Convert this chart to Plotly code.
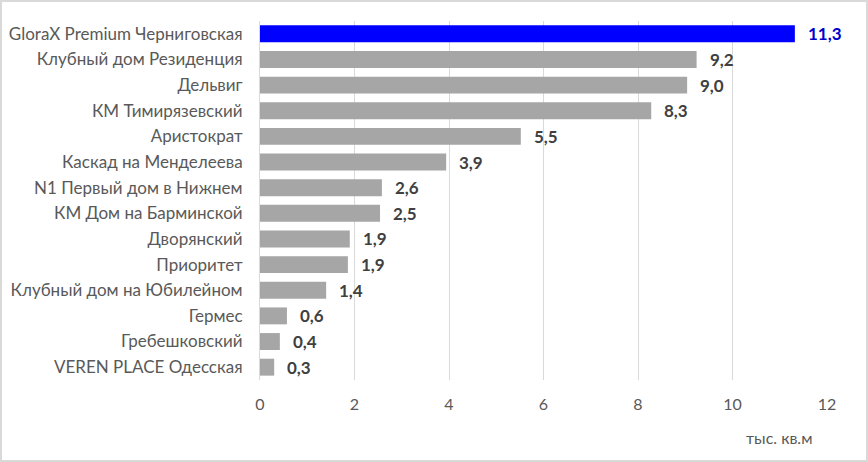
import plotly.graph_objects as go

categories = [
    "GloraX Premium Черниговская",
    "Клубный дом Резиденция",
    "Дельвиг",
    "КМ Тимирязевский",
    "Аристократ",
    "Каскад на Менделеева",
    "N1 Первый дом в Нижнем",
    "КМ Дом на Барминской",
    "Дворянский",
    "Приоритет",
    "Клубный дом на Юбилейном",
    "Гермес",
    "Гребешковский",
    "VEREN PLACE Одесская",
]
values = [11.32, 9.24, 9.04, 8.28, 5.52, 3.94, 2.58, 2.54, 1.9, 1.86, 1.4, 0.57, 0.42, 0.3]
tick_vals = [0, 2, 4, 6, 8, 10, 12]
axis_unit = "тыс. кв.м"

highlight = "GloraX Premium Черниговская"
bar_colors = ["#0000FF" if c == highlight else "#A6A6A6" for c in categories]
label_colors = ["#0000CC" if c == highlight else "#404040" for c in categories]
labels = [f"{v:.1f}".replace(".", ",") for v in values]

FONT = "Lato"
W, H = 868, 462
L, R, T, B = 260, 41, 21, 82
pw, ph = W - L - R, H - T - B

fig = go.Figure()
fig.add_trace(go.Bar(
    x=values, y=categories, orientation="h",
    marker=dict(color=bar_colors, line=dict(width=0)),
    hoverinfo="x+y",
))

for c, v, t, col in zip(categories, values, labels, label_colors):
    fig.add_annotation(x=v, y=c, text=f"<b>{t}</b>", showarrow=False,
                       xanchor="left", xshift=11,
                       font=dict(family=FONT, size=17, color=col))

fig.add_annotation(x=(779 - L) / pw, y=-(437 - (T + ph)) / ph, xref="paper", yref="paper",
                   text=axis_unit, showarrow=False, xanchor="center", yanchor="middle",
                   font=dict(family=FONT, size=16, color="#595959"))

fig.add_shape(type="rect", xref="paper", yref="paper",
              x0=(1 - L) / pw, x1=(W - 1 - L) / pw,
              y0=-(H - 1 - (T + ph)) / ph, y1=(T + ph - 1) / ph,
              line=dict(color="#D9D9D9", width=2), layer="below")

fig.update_layout(
    width=W, height=H,
    margin=dict(l=L, r=R, t=T, b=B, pad=0, autoexpand=False),
    paper_bgcolor="white", plot_bgcolor="white",
    bargap=0.34,
    showlegend=False,
    xaxis=dict(range=[0, 12], tickvals=tick_vals, ticktext=[str(v) for v in tick_vals],
               showgrid=True, gridcolor="#D9D9D9", gridwidth=1,
               zeroline=False, showline=False, automargin=False,
               ticks="outside", ticklen=10, tickcolor="rgba(0,0,0,0)",
               tickfont=dict(family=FONT, size=16, color="#595959")),
    yaxis=dict(autorange="reversed", showgrid=False, zeroline=False,
               showline=True, linecolor="#D9D9D9", linewidth=1, automargin=False,
               ticks="outside", ticklen=13, tickcolor="rgba(0,0,0,0)",
               tickfont=dict(family=FONT, size=17, color="#595959")),
)

fig.write_html("out.html", config={"displayModeBar": False},
               post_script="document.body.style.margin='0';")
